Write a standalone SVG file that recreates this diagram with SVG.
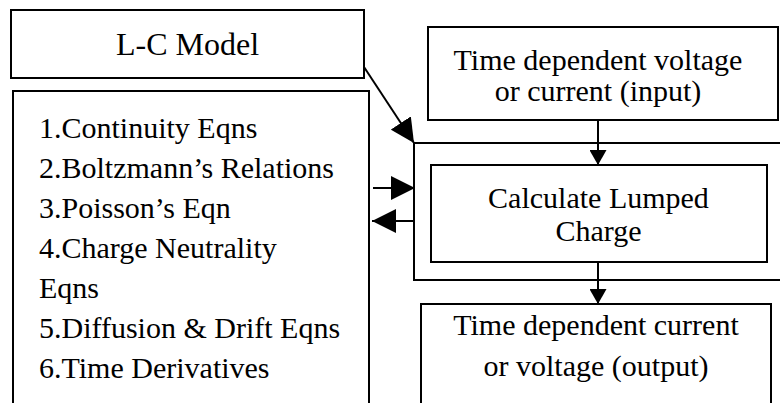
<svg xmlns="http://www.w3.org/2000/svg" width="780" height="403" viewBox="0 0 780 403">
<defs>
<style>
.box{fill:#fff;stroke:#000;stroke-width:2}
.frame{fill:none;stroke:#000;stroke-width:2}
.t{font-family:"Liberation Serif","Times New Roman",serif;font-size:30px;fill:#000}
.c{text-anchor:middle}
.ln{stroke:#000;stroke-width:2;fill:none}
</style>
<marker id="big" viewBox="0 0 24 24" refX="24" refY="12" markerWidth="24" markerHeight="24" markerUnits="userSpaceOnUse" orient="auto"><path d="M0,0 L24,12 L0,24 Z" fill="#000"/></marker>
<marker id="small" viewBox="0 0 15 17" refX="15" refY="8.5" markerWidth="15" markerHeight="17" markerUnits="userSpaceOnUse" orient="auto"><path d="M0,0 L15,8.5 L0,17 Z" fill="#000"/></marker>
</defs>
<rect width="780" height="403" fill="#fff"/>
<g id="lumped-frame"><rect class="frame" x="414" y="143" width="372" height="137"/></g>
<g id="lc-model"><rect class="box" x="11" y="10" width="353" height="68"/><text class="t c" x="187.5" y="55" style="font-size:32px">L-C Model</text></g>
<g id="equations"><rect class="box" x="13" y="91" width="356" height="330"/>
<text class="t" x="39" y="138">1.Continuity Eqns</text>
<text class="t" x="39" y="178">2.Boltzmann’s Relations</text>
<text class="t" x="39" y="218">3.Poisson’s Eqn</text>
<text class="t" x="39" y="258">4.Charge Neutrality</text>
<text class="t" x="39" y="298">Eqns</text>
<text class="t" x="39" y="338">5.Diffusion &amp; Drift Eqns</text>
<text class="t" x="39" y="378">6.Time Derivatives</text>
</g>
<g id="input"><rect class="box" x="428" y="27" width="350" height="93"/><text class="t c" x="598" y="70">Time dependent voltage</text><text class="t c" x="598" y="101">or current (input)</text></g>
<g id="calc"><rect class="box" x="431" y="165" width="336" height="97"/><text class="t c" x="598.5" y="208">Calculate Lumped</text><text class="t c" x="598.5" y="241">Charge</text></g>
<g id="output"><rect class="box" x="421" y="304" width="350" height="120"/><text class="t c" x="596" y="335">Time dependent current</text><text class="t c" x="596" y="376">or voltage (output)</text></g>
<g id="connectors">
<line class="ln" x1="364" y1="67" x2="414" y2="143" marker-end="url(#big)"/>
<line class="ln" x1="373" y1="188" x2="415" y2="188" marker-end="url(#big)"/>
<line class="ln" x1="414" y1="221" x2="372" y2="221" marker-end="url(#big)"/>
<line class="ln" x1="598" y1="120" x2="598" y2="165" marker-end="url(#small)"/>
<line class="ln" x1="598" y1="262" x2="598" y2="304" marker-end="url(#small)"/>
</g>
</svg>
